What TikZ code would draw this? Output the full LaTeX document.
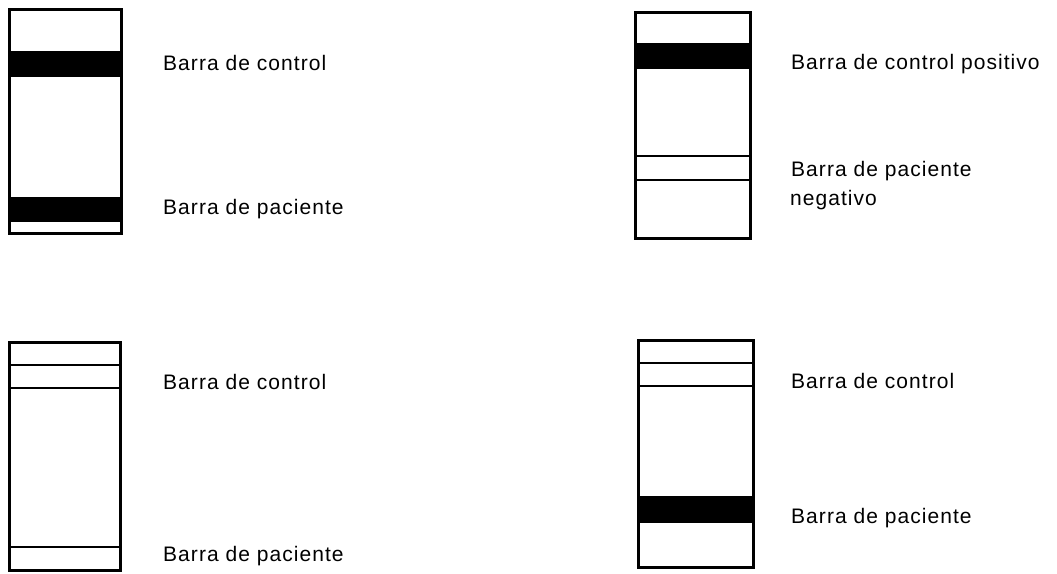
\documentclass[tikz,border=0pt]{standalone}
\usepackage{fontspec}
\newfontfamily\labelfont[LetterSpace=5]{Liberation Sans}
\begin{document}
\begin{tikzpicture}[x=1pt,y=-1pt,
  stripbox/.style={draw=black,line width=3pt},
  band/.style={fill=black},
  divider/.style={draw=black,line width=2.2pt},
  caption/.style={anchor=base west,inner sep=0pt,font=\labelfont\fontsize{21}{25}\selectfont}]
\useasboundingbox[fill=white] (0,0) rectangle (1057,573);

% strip 1: dark control band and dark patient band
\fill[band] (9,51) rectangle (121,77);
\fill[band] (9,197) rectangle (121,222);
\draw[stripbox] (9,9) rectangle (121,233);
\node[caption] (c1) at (163,70) {Barra de control};
\node[caption] (p1) at (163,214) {Barra de paciente};

% strip 2: dark control band, faint patient band
\fill[band] (635,43) rectangle (750,69);
\draw[divider] (635,156) -- (750,156);
\draw[divider] (635,180) -- (750,180);
\draw[stripbox] (635,12) rectangle (750,238);
\node[caption] (c2) at (791,69) {Barra de control positivo};
\node[caption] (p2) at (791,176) {Barra de paciente};
\node[caption] (p2b) at (790,205) {negativo};

% strip 3: no visible bands
\draw[divider] (9,365) -- (120,365);
\draw[divider] (9,388) -- (120,388);
\draw[divider] (9,547) -- (120,547);
\draw[stripbox] (9,342) rectangle (120,570);
\node[caption] (c3) at (163,389) {Barra de control};
\node[caption] (p3) at (163,561) {Barra de paciente};

% strip 4: faint control band, dark patient band
\draw[divider] (638,363) -- (753,363);
\draw[divider] (638,386) -- (753,386);
\fill[band] (638,496) rectangle (753,523);
\draw[stripbox] (638,340) rectangle (753,567);
\node[caption] (c4) at (791,388) {Barra de control};
\node[caption] (p4) at (791,523) {Barra de paciente};
\end{tikzpicture}
\end{document}
